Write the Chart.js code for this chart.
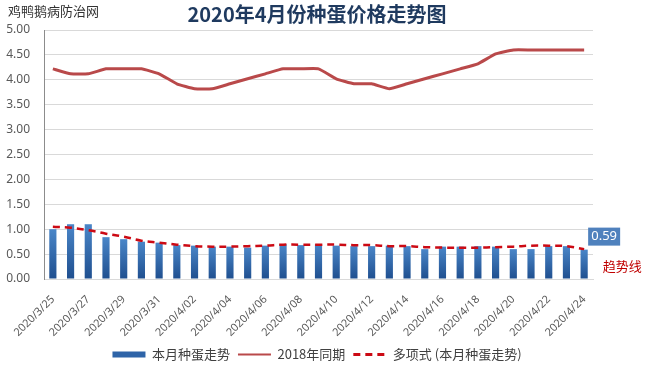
<!DOCTYPE html>
<html>
<head>
<meta charset="utf-8">
<script src="https://cdn.jsdelivr.net/npm/chart.js@4"></script>
<style>
  html, body { margin: 0; padding: 0; background: #fff; }
  #box { width: 649px; height: 369px; }
</style>
</head>
<body>
<div id="box"><canvas id="eggChart"></canvas></div>
<script>
// 日期
const dates = [
  "2020/3/25", "2020/3/26", "2020/3/27", "2020/3/28", "2020/3/29", "2020/3/30", "2020/3/31",
  "2020/4/01", "2020/4/02", "2020/4/03", "2020/4/04", "2020/4/05", "2020/4/06", "2020/4/07",
  "2020/4/08", "2020/4/09", "2020/4/10", "2020/4/11", "2020/4/12", "2020/4/13", "2020/4/14",
  "2020/4/15", "2020/4/16", "2020/4/17", "2020/4/18", "2020/4/19", "2020/4/20", "2020/4/21",
  "2020/4/22", "2020/4/23", "2020/4/24"
];
// 本月种蛋走势
const thisMonth = [1.00, 1.10, 1.10, 0.84, 0.80, 0.75, 0.73, 0.68, 0.67, 0.65, 0.65, 0.63, 0.67, 0.70, 0.68, 0.70,
  0.67, 0.66, 0.66, 0.67, 0.66, 0.60, 0.65, 0.65, 0.66, 0.65, 0.60, 0.60, 0.66, 0.66, 0.59];
// 2018年同期
const lastYear2018 = [4.22, 4.12, 4.12, 4.22, 4.22, 4.22, 4.12, 3.92, 3.82, 3.82, 3.92, 4.02, 4.12, 4.22, 4.22, 4.22,
  4.02, 3.92, 3.92, 3.82, 3.92, 4.02, 4.12, 4.22, 4.32, 4.52, 4.60, 4.60, 4.60, 4.60, 4.60];
// 多项式趋势线
const trend = [1.05, 1.03, 0.98, 0.91, 0.85, 0.77, 0.73, 0.69, 0.66, 0.65, 0.65, 0.66, 0.67, 0.69, 0.69, 0.69,
  0.69, 0.68, 0.68, 0.66, 0.66, 0.64, 0.63, 0.63, 0.63, 0.64, 0.65, 0.67, 0.67, 0.66, 0.60];
const yTicks = [0, 0.5, 1, 1.5, 2, 2.5, 3, 3.5, 4, 4.5, 5];

const fontCJK = "'Noto Sans CJK SC', 'Noto Sans', sans-serif";
const fontNum = "'Noto Sans', 'Noto Sans CJK SC', sans-serif";

// 渐变柱
function barFill(ctx) {
  const chart = ctx.chart;
  if (!chart.chartArea || !ctx.parsed) return "#2e64a8";
  const y = chart.scales.y;
  const top = y.getPixelForValue(ctx.parsed.y);
  const g = chart.ctx.createLinearGradient(0, top, 0, y.getPixelForValue(0));
  g.addColorStop(0, "#4a86c8");
  g.addColorStop(1, "#1f4f8f");
  return g;
}

// 水印、数据标签、趋势线文字
const extras = {
  id: "extras",
  afterDatasetsDraw(chart) {
    const c = chart.ctx;
    const meta = chart.getDatasetMeta(0);
    const last = meta.data[meta.data.length - 1];
    const y = chart.scales.y;
    c.save();
    c.fillStyle = "#333";
    c.font = "13px " + fontCJK;
    c.textAlign = "left";
    c.textBaseline = "middle";
    c.fillText("鸡鸭鹅病防治网", 8, 11);

    c.fillStyle = "#4f81bd";
    c.fillRect(last.x + 4, last.y - 22, 32, 18);
    c.fillStyle = "#fff";
    c.font = "13px " + fontNum;
    c.textAlign = "center";
    c.fillText(thisMonth[thisMonth.length - 1].toFixed(2), last.x + 20, last.y - 13);

    c.fillStyle = "#c00000";
    c.font = "13px " + fontCJK;
    c.fillText("趋势线", last.x + 38, y.getPixelForValue(0) - 13);
    c.restore();
  }
};

new Chart(document.getElementById("eggChart"), {
  type: "bar",
  data: {
    labels: dates,
    datasets: [
      {
        label: "本月种蛋走势",
        data: thisMonth,
        backgroundColor: barFill,
        barPercentage: 0.45,
        categoryPercentage: 0.9,
        order: 3
      },
      {
        type: "line",
        label: "2018年同期",
        data: lastYear2018,
        borderColor: "#b9494a",
        borderWidth: 3,
        pointRadius: 0,
        tension: 0.12,
        fill: false,
        order: 2
      },
      {
        type: "line",
        label: "多项式 (本月种蛋走势)",
        data: trend,
        borderColor: "#cc0a14",
        borderWidth: 2.5,
        borderDash: [7, 5],
        pointRadius: 0,
        tension: 0.4,
        fill: false,
        order: 1
      }
    ]
  },
  options: {
    responsive: true,
    maintainAspectRatio: false,
    animation: false,
    layout: { padding: { left: 0, right: 15, top: 0, bottom: 0 } },
    plugins: {
      title: {
        display: true,
        text: "2020年4月份种蛋价格走势图",
        color: "#1f3a5f",
        font: { family: fontCJK, size: 20, weight: "bold" },
        padding: { top: 2, bottom: 4 }
      },
      legend: {
        position: "bottom",
        maxHeight: 29,
        labels: {
          color: "#404040",
          font: { family: fontCJK, size: 13 },
          usePointStyle: true,
          pointStyleWidth: 33,
          boxHeight: 6,
          padding: 8,
          sort: (a, b) => a.datasetIndex - b.datasetIndex,
          generateLabels(chart) {
            return Chart.defaults.plugins.legend.labels.generateLabels(chart).map(item => {
              if (item.datasetIndex === 0) {
                item.pointStyle = "rect";
                item.fillStyle = "#2e64a8";
                item.strokeStyle = "#2e64a8";
              } else if (item.datasetIndex === 1) {
                item.pointStyle = "line";
                item.lineWidth = 2;
              } else {
                item.pointStyle = "line";
                item.lineWidth = 3;
                item.lineDash = [7, 5];
              }
              return item;
            });
          }
        }
      },
      tooltip: { enabled: false }
    },
    scales: {
      x: {
        grid: { display: false },
        border: { color: "#d9d9d9" },
        ticks: {
          autoSkip: false,
          minRotation: 45,
          maxRotation: 45,
          padding: 6,
          color: "#595959",
          font: { family: fontNum, size: 11 },
          callback: (v, i) => (i % 2 === 0 ? dates[i] : "")
        },
        afterFit: s => { s.height = 61; }
      },
      y: {
        min: 0,
        max: 5,
        afterBuildTicks: s => { s.ticks = yTicks.map(v => ({ value: v })); },
        grid: { color: "#d9d9d9", drawTicks: false },
        border: { color: "#8c8c8c" },
        ticks: {
          padding: 14,
          color: "#595959",
          font: { family: fontNum, size: 12 },
          callback: v => v.toFixed(2)
        },
        afterFit: s => { s.width = 44; }
      },
      y2: {
        position: "right",
        grid: { display: false },
        border: { display: false },
        ticks: { display: false },
        afterFit: s => { s.width = 41; }
      }
    }
  },
  plugins: [extras]
});
</script>
</body>
</html>
